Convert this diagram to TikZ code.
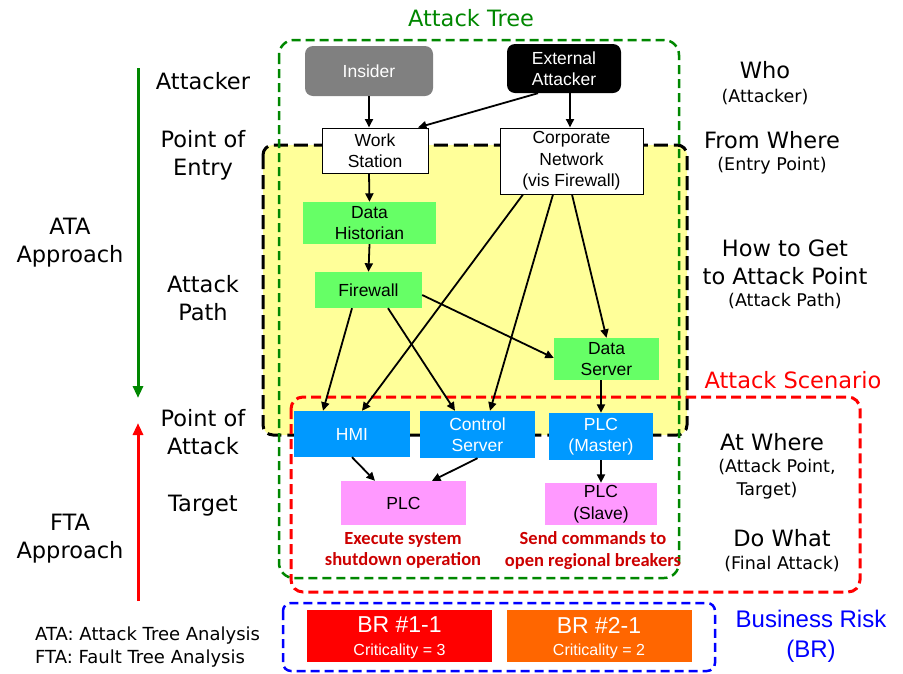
\documentclass[tikz,border=0pt]{standalone}
\usepackage{fontspec}
\setmainfont{Liberation Sans}
\newfontfamily\dvs{DejaVu Sans}
\newfontfamily\carl{Carlito}
\usetikzlibrary{arrows.meta}
\definecolor{tgreen}{RGB}{0,135,0}
\definecolor{boxgreen}{RGB}{102,255,102}
\definecolor{boxblue}{RGB}{0,153,255}
\definecolor{boxpink}{RGB}{255,153,255}
\definecolor{yel}{RGB}{255,255,153}
\definecolor{darkred}{RGB}{204,0,0}
\definecolor{brorange}{RGB}{255,102,0}
\definecolor{gray5}{RGB}{128,128,128}
\begin{document}
\begin{tikzpicture}[x=1pt,y=-1pt,
  box/.style={rectangle, inner sep=0pt, align=center, font=\fontsize{17.5}{21.5}\selectfont},
  gbox/.style={box, fill=boxgreen},
  bbox/.style={box, fill=boxblue, text=white},
  pbox/.style={box, fill=boxpink},
  wbox/.style={box, draw=black, line width=1pt, fill=white},
  arr/.style={-{Triangle[length=8.5pt,width=8pt]}, line width=1.8pt},
  lbl/.style={font=\dvs\fontsize{22.5}{28}\selectfont, align=center, inner sep=0pt},
  sublbl/.style={font=\dvs\fontsize{17.5}{24}\selectfont, align=center, inner sep=0pt},
  redtxt/.style={font=\carl\bfseries\fontsize{18.5}{21.5}\selectfont, text=darkred, align=center, inner sep=0pt},
  legend/.style={font=\dvs\fontsize{18}{23}\selectfont, anchor=west, inner sep=0pt},
  brbox/.style={rectangle, inner sep=0pt, minimum width=185pt, minimum height=52pt, text=white},
  bigarrow/.style={-{Triangle[length=12pt,width=10pt]}, line width=3pt}
]
\useasboundingbox (0,0) rectangle (903,673);

% regions
\draw[fill=yel, draw=black, line width=3pt, dash pattern=on 14pt off 6pt, rounded corners=10pt]
  (263,145) rectangle (687,435);
\draw[draw=tgreen, line width=2.5pt, dash pattern=on 9pt off 5pt, rounded corners=15pt]
  (279,40) rectangle (679,578);
\draw[draw=red, line width=3pt, dash pattern=on 10pt off 5pt, rounded corners=12pt]
  (291,397) rectangle (860,592);
\draw[draw=blue, line width=2.5pt, dash pattern=on 9pt off 5pt, rounded corners=8pt]
  (283,603) rectangle (715,671);

% titles
\node[lbl, text=tgreen] (ttree) at (471,18) {Attack Tree};
\node[lbl, text=red] (tscen) at (793,380) {Attack Scenario};
\node[font=\fontsize{24}{30}\selectfont, text=blue, align=center, inner sep=0pt] (tbr) at (811,636) {Business Risk\\(BR)};

% left labels
\node[lbl] (lAtt) at (203,81) {Attacker};
\node[lbl] (lPoE) at (203,155) {Point of\\Entry};
\node[lbl] (lAP) at (203,298) {Attack\\Path};
\node[lbl] (lPoA) at (203,432) {Point of\\Attack};
\node[lbl] (lTar) at (203,506) {Target};
\node[lbl] (lATA) at (70,243) {ATA\\Approach};
\node[lbl] (lFTA) at (70,539) {FTA\\Approach};

\coordinate (gA) at (138,68);
\coordinate (gB) at (138,398);
\coordinate (rA) at (138,601);
\coordinate (rB) at (138,423);
\draw[bigarrow, draw=tgreen, fill=tgreen] (gA) -- (gB);
\draw[bigarrow, draw=red, fill=red] (rA) -- (rB);

% right labels
\node[lbl] (rWho) at (765,70) {Who};
\node[sublbl] (rWho2) at (765,97) {(Attacker)};
\node[lbl] (rFW) at (772,140) {From Where};
\node[sublbl] (rFW2) at (772,166) {(Entry Point)};
\node[lbl] (rHow) at (785,262) {How to Get\\to Attack Point};
\node[sublbl] (rHow2) at (785,301) {(Attack Path)};
\node[lbl] (rAW) at (772,442) {At Where};
\node[sublbl] (rAW2) at (777,467) {(Attack Point,};
\node[sublbl] (rAW3) at (767,491) {Target)};
\node[lbl] (rDW) at (782,538) {Do What};
\node[sublbl] (rDW2) at (782,564) {(Final Attack)};

% legend
\node[legend] (leg1) at (35,636) {ATA:\ Attack Tree Analysis};
\node[legend] (leg2) at (35,659) {FTA:\ Fault Tree Analysis};

% nodes
\node[box, fill=gray5, text=white, rounded corners=8pt, minimum width=128pt, minimum height=50pt] (ins) at (369,71) {Insider};
\node[box, fill=black, text=white, rounded corners=8pt, minimum width=114pt, minimum height=49pt] (ext) at (564,68.5) {External\\Attacker};
\node[wbox, minimum width=106pt, minimum height=45pt] (ws) at (375,150.5) {Work\\Station};
\node[wbox, minimum width=143pt, minimum height=66pt] (corp) at (571.5,161) {Corporate\\Network\\(vis Firewall)};
\node[gbox, minimum width=133pt, minimum height=42pt] (hist) at (369.5,223) {Data\\Historian};
\node[gbox, minimum width=107pt, minimum height=36pt] (fw) at (368.5,290) {Firewall};
\node[gbox, minimum width=105pt, minimum height=42pt] (ds) at (606.5,359) {Data\\Server};
\node[bbox, minimum width=116pt, minimum height=46pt] (hmi) at (352,434) {HMI};
\node[bbox, minimum width=115pt, minimum height=47pt] (cs) at (477.5,434.5) {Control\\Server};
\node[bbox, minimum width=104pt, minimum height=47pt] (plcm) at (601,436.5) {PLC\\(Master)};
\node[pbox, minimum width=125pt, minimum height=44pt] (plc) at (403.5,503) {PLC};
\node[pbox, minimum width=112pt, minimum height=42pt] (plcs) at (601,504) {PLC\\(Slave)};

\node[redtxt] (t1) at (403,550.5) {Execute system\\shutdown operation};
\node[redtxt] (t2) at (593,550.5) {Send commands to\\open regional breakers};

\node[brbox, fill=red] (br1) at (399.5,636) {};
\node[brbox, fill=brorange] (br2) at (599,636) {};
\node[font=\fontsize{23}{26}\selectfont, text=white, inner sep=0pt] (br1a) at (399.5,625) {BR \#1-1};
\node[font=\fontsize{16}{20}\selectfont, text=white, inner sep=0pt] (br1b) at (399.5,651) {Criticality = 3};
\node[font=\fontsize{23}{26}\selectfont, text=white, inner sep=0pt] (br2a) at (599,625) {BR \#2-1};
\node[font=\fontsize{16}{20}\selectfont, text=white, inner sep=0pt] (br2b) at (599,651) {Criticality = 2};

% connectors
\draw[arr] (ins.south) -- ([xshift=-6pt]ws.north);
\draw[arr] ([xshift=-26pt]ext.south) -- ([xshift=43pt]ws.north);
\draw[arr] ([xshift=6pt]ext.south) -- ([xshift=-1.5pt]corp.north);
\draw[arr] ([xshift=-6pt]ws.south) -- (hist.north);
\draw[arr] (hist.south) -- (fw.north);
\draw[arr] ([xshift=-16.5pt]fw.south) -- ([xshift=-29pt]hmi.north);
\draw[arr] ([xshift=19.5pt]fw.south) -- ([xshift=-22.5pt]cs.north);
\draw[arr] ([yshift=-5pt]fw.east) -- ([yshift=1pt]ds.west);
\draw[arr] ([xshift=-48.5pt]corp.south) -- ([xshift=10pt]hmi.north);
\draw[arr] ([xshift=-18.5pt]corp.south) -- ([xshift=12.5pt]cs.north);
\draw[arr] ([xshift=0.5pt]corp.south) -- (ds.north);
\draw[arr] ([xshift=-5.5pt]ds.south) -- (plcm.north);
\draw[arr] (hmi.south) -- ([xshift=-28.5pt]plc.north);
\draw[arr] (cs.south) -- ([xshift=28.5pt]plc.north);
\draw[arr] (plcm.south) -- (plcs.north);
\end{tikzpicture}
\end{document}
